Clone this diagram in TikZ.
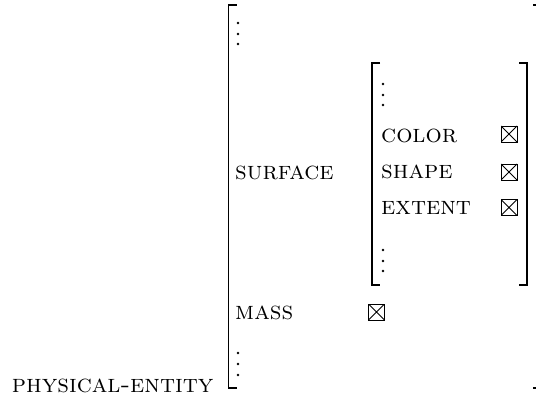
\documentclass[tikz,border=0pt]{standalone}
\usepackage{amssymb}
\begin{document}
\begin{tikzpicture}[x=1pt,y=-1pt,
  lbl/.style={inner sep=0pt,anchor=west,font=\fontsize{25.5}{30}\selectfont\scshape},
  brk/.style={line width=1.5pt},
  dotc/.style={fill=black,draw=none,circle,inner sep=0pt,minimum size=2.6pt},
  xbox/.style={draw,line width=0.9pt,inner sep=0pt,minimum width=16pt,minimum height=16pt,
    path picture={\draw[line width=0.9pt] (path picture bounding box.north west) -- (path picture bounding box.south east)
      (path picture bounding box.south west) -- (path picture bounding box.north east);}}]
\useasboundingbox (0,0) rectangle (536,401);
% outer bracket
\coordinate (otl) at (228.5,5);
\coordinate (obl) at (228.5,388);
\coordinate (otr) at (541,5);
\coordinate (obr) at (541,388);
\draw[brk] ([xshift=8pt]otl) -- (otl) -- (obl) -- ([xshift=8pt]obl);
\draw[brk] ([xshift=-8pt]otr) -- (otr) -- (obr) -- ([xshift=-8pt]obr);
% inner bracket
\coordinate (itl) at (372,63);
\coordinate (ibl) at (372,285);
\coordinate (itr) at (527,63);
\coordinate (ibr) at (527,285);
\draw[brk] ([xshift=8pt]itl) -- (itl) -- (ibl) -- ([xshift=8pt]ibl);
\draw[brk] ([xshift=-8pt]itr) -- (itr) -- (ibr) -- ([xshift=-8pt]ibr);
% dots
\foreach \y [count=\i] in {23,34,44} {\node[dotc] (td\i) at (238,\y) {};}
\foreach \y [count=\i] in {84,95,105} {\node[dotc] (itd\i) at (383,\y) {};}
\foreach \y [count=\i] in {250,261,271} {\node[dotc] (ibd\i) at (383,\y) {};}
\foreach \y [count=\i] in {353,364,375} {\node[dotc] (bd\i) at (238,\y) {};}
% labels
\node[lbl] (surface) at (235,173) {surface};
\node[lbl] (color) at (381,136) {color};
\node[lbl] (shape) at (381,172) {shape};
\node[lbl] (extent) at (381,208) {extent};
\node[lbl] (mass) at (235,312.5) {mass};
\node[lbl] (pe) at (11.7,385.5) {physical-entity};
% boxes
\node[xbox] (bcolor) at (509,134) {};
\node[xbox] (bshape) at (509,172) {};
\node[xbox] (bextent) at (509,207.5) {};
\node[xbox] (bmass) at (376.5,312) {};
\end{tikzpicture}
\end{document}
